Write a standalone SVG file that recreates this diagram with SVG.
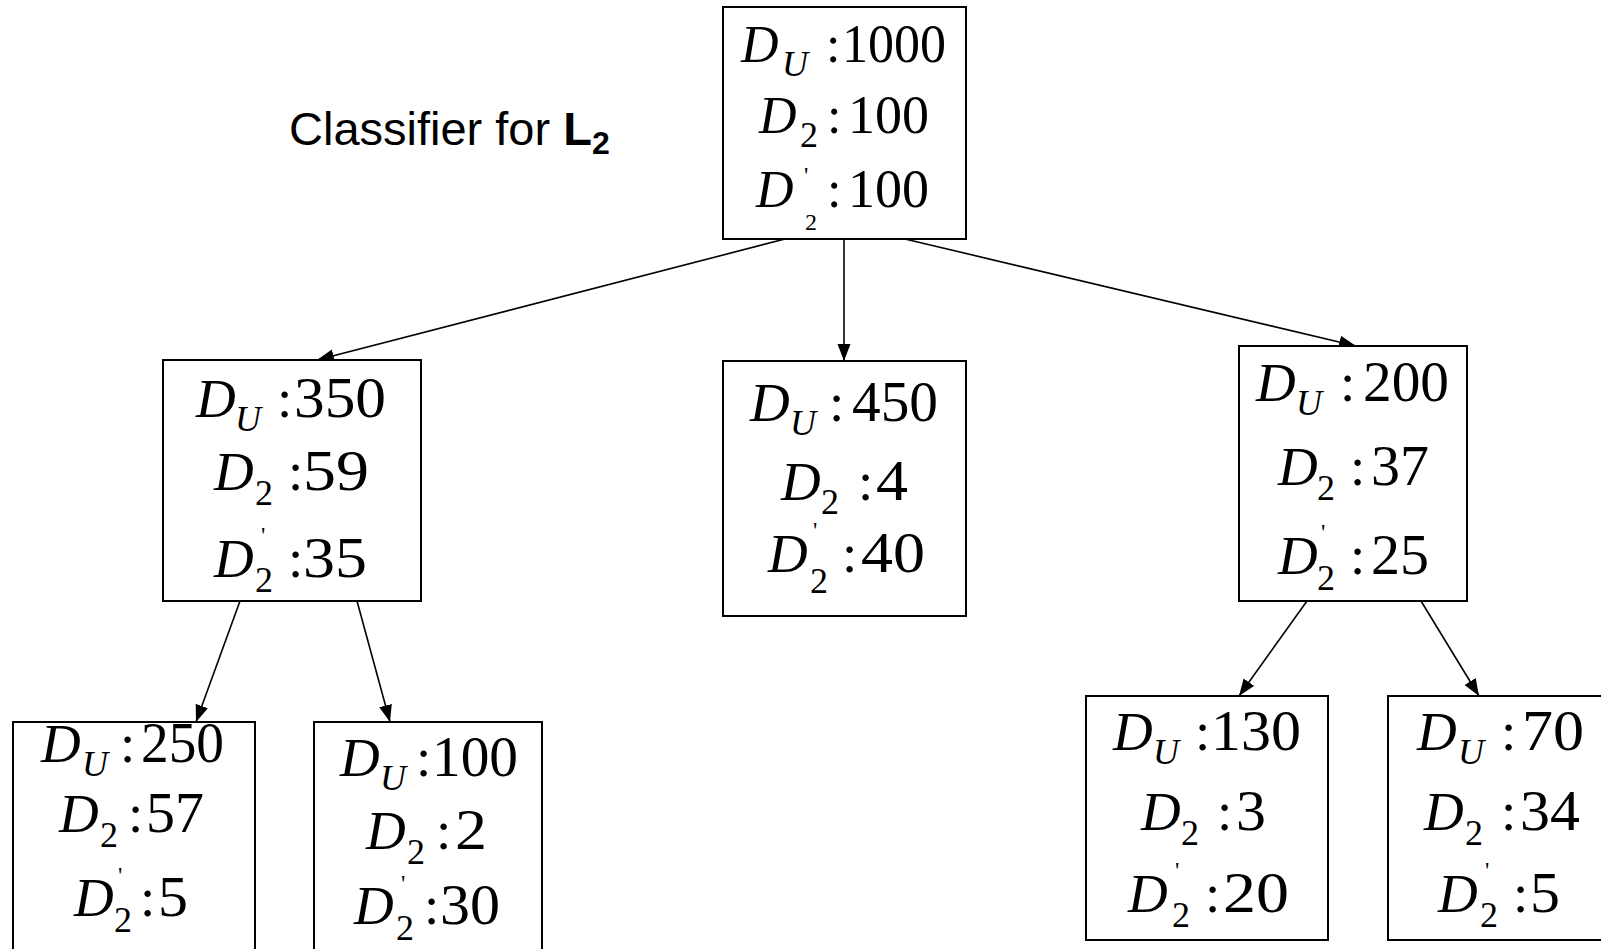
<svg xmlns="http://www.w3.org/2000/svg" width="1601" height="949" viewBox="0 0 1601 949">
<defs>
<style>
.box{fill:#fff;stroke:#000;stroke-width:2}
.t{font-family:"Liberation Serif","Times New Roman",serif;font-size:55px;fill:#000}
.tt{font-size:52px}
.n{font-size:58px}
.tt .n{font-size:54px}
.i{font-style:italic}
.s{font-size:36px}
.p{font-size:24px}
.ss{font-size:24px}
.lbl{font-family:"Liberation Sans",Arial,sans-serif;font-size:47px;fill:#000}
.edge{stroke:#000;stroke-width:1.6;fill:none;marker-end:url(#ah)}
</style>
<marker id="ah" markerUnits="userSpaceOnUse" markerWidth="18" markerHeight="14" refX="17" refY="6.5" orient="auto">
<path d="M0,0 L17,6.5 L0,13 z" fill="#000"/>
</marker>
</defs>
<rect width="1601" height="949" fill="#fff"/>

<g id="label">
<text class="lbl" x="289" y="145">Classifier for <tspan font-weight="bold">L</tspan><tspan font-weight="bold" font-size="32px" dy="9">2</tspan></text>
</g>

<g id="connectors">
<line class="edge" x1="785" y1="239" x2="317" y2="360"/>
<line class="edge" x1="844" y1="239" x2="844" y2="361"/>
<line class="edge" x1="905" y1="239" x2="1356" y2="346"/>
<line class="edge" x1="240" y1="601" x2="196" y2="722"/>
<line class="edge" x1="357" y1="601" x2="390" y2="722"/>
<line class="edge" x1="1307" y1="601" x2="1239" y2="696"/>
<line class="edge" x1="1421" y1="601" x2="1479" y2="696"/>
</g>

<g id="n-root">
<rect class="box" x="723" y="7" width="243" height="232"/>
<text class="t tt"><tspan class="i" x="741" y="62">D</tspan><tspan class="i s" x="782" y="76">U</tspan><tspan x="826" y="62">:</tspan><tspan class="n" x="842" y="62" textLength="104" lengthAdjust="spacingAndGlyphs">1000</tspan></text>
<text class="t tt"><tspan class="i" x="759" y="133">D</tspan><tspan class="s" x="800" y="147">2</tspan><tspan x="827" y="133">:</tspan><tspan class="n" x="848" y="133" textLength="81" lengthAdjust="spacingAndGlyphs">100</tspan></text>
<text class="t tt"><tspan class="i" x="756" y="207">D</tspan><tspan class="p" x="804" y="183">'</tspan><tspan class="ss" x="805" y="230">2</tspan><tspan x="827" y="207">:</tspan><tspan class="n" x="848" y="207" textLength="81" lengthAdjust="spacingAndGlyphs">100</tspan></text>
</g>

<g id="n-left">
<rect class="box" x="163" y="360" width="258" height="241"/>
<text class="t"><tspan class="i" x="196" y="417">D</tspan><tspan class="i s" x="235" y="431">U</tspan><tspan x="277" y="417">:</tspan><tspan class="n" x="294" y="417" textLength="92" lengthAdjust="spacingAndGlyphs">350</tspan></text>
<text class="t"><tspan class="i" x="214" y="490">D</tspan><tspan class="s" x="255" y="505">2</tspan><tspan x="288" y="490">:</tspan><tspan class="n" x="303" y="490" textLength="66" lengthAdjust="spacingAndGlyphs">59</tspan></text>
<text class="t"><tspan class="i" x="214" y="577">D</tspan><tspan class="p" x="261" y="543">'</tspan><tspan class="s" x="255" y="592">2</tspan><tspan x="288" y="577">:</tspan><tspan class="n" x="303" y="577" textLength="64" lengthAdjust="spacingAndGlyphs">35</tspan></text>
</g>

<g id="n-center">
<rect class="box" x="723" y="361" width="243" height="255"/>
<text class="t"><tspan class="i" x="750" y="421">D</tspan><tspan class="i s" x="790" y="435">U</tspan><tspan x="829" y="421">:</tspan><tspan class="n" x="852" y="421" textLength="86" lengthAdjust="spacingAndGlyphs">450</tspan></text>
<text class="t"><tspan class="i" x="781" y="500">D</tspan><tspan class="s" x="821" y="514">2</tspan><tspan x="858" y="500">:</tspan><tspan class="n" x="876" y="500" textLength="32" lengthAdjust="spacingAndGlyphs">4</tspan></text>
<text class="t"><tspan class="i" x="768" y="572">D</tspan><tspan class="p" x="813" y="538">'</tspan><tspan class="s" x="810" y="593">2</tspan><tspan x="842" y="572">:</tspan><tspan class="n" x="861" y="572" textLength="64" lengthAdjust="spacingAndGlyphs">40</tspan></text>
</g>

<g id="n-right">
<rect class="box" x="1239" y="346" width="228" height="255"/>
<text class="t"><tspan class="i" x="1256" y="401">D</tspan><tspan class="i s" x="1296" y="415">U</tspan><tspan x="1340" y="401">:</tspan><tspan class="n" x="1363" y="401" textLength="86" lengthAdjust="spacingAndGlyphs">200</tspan></text>
<text class="t"><tspan class="i" x="1278" y="485">D</tspan><tspan class="s" x="1317" y="500">2</tspan><tspan x="1350" y="485">:</tspan><tspan class="n" x="1371" y="485" textLength="58" lengthAdjust="spacingAndGlyphs">37</tspan></text>
<text class="t"><tspan class="i" x="1278" y="574">D</tspan><tspan class="p" x="1321" y="540">'</tspan><tspan class="s" x="1317" y="590">2</tspan><tspan x="1350" y="574">:</tspan><tspan class="n" x="1371" y="574" textLength="58" lengthAdjust="spacingAndGlyphs">25</tspan></text>
</g>

<g id="n-ll">
<rect class="box" x="13" y="722" width="242" height="240"/>
<text class="t"><tspan class="i" x="41" y="762">D</tspan><tspan class="i s" x="82" y="776">U</tspan><tspan x="120" y="762">:</tspan><tspan class="n" x="141" y="762" textLength="83" lengthAdjust="spacingAndGlyphs">250</tspan></text>
<text class="t"><tspan class="i" x="59" y="832">D</tspan><tspan class="s" x="100" y="847">2</tspan><tspan x="128" y="832">:</tspan><tspan class="n" x="146" y="832" textLength="58" lengthAdjust="spacingAndGlyphs">57</tspan></text>
<text class="t"><tspan class="i" x="74" y="916">D</tspan><tspan class="p" x="118" y="883">'</tspan><tspan class="s" x="114" y="932">2</tspan><tspan x="140" y="916">:</tspan><tspan class="n" x="158" y="916" textLength="30" lengthAdjust="spacingAndGlyphs">5</tspan></text>
</g>

<g id="n-lr">
<rect class="box" x="314" y="722" width="228" height="240"/>
<text class="t"><tspan class="i" x="340" y="776">D</tspan><tspan class="i s" x="380" y="790">U</tspan><tspan x="416" y="776">:</tspan><tspan class="n" x="432" y="776" textLength="86" lengthAdjust="spacingAndGlyphs">100</tspan></text>
<text class="t"><tspan class="i" x="366" y="849">D</tspan><tspan class="s" x="407" y="864">2</tspan><tspan x="436" y="849">:</tspan><tspan class="n" x="455" y="849" textLength="32" lengthAdjust="spacingAndGlyphs">2</tspan></text>
<text class="t"><tspan class="i" x="354" y="924">D</tspan><tspan class="p" x="401" y="891">'</tspan><tspan class="s" x="396" y="940">2</tspan><tspan x="424" y="924">:</tspan><tspan class="n" x="440" y="924" textLength="60" lengthAdjust="spacingAndGlyphs">30</tspan></text>
</g>

<g id="n-rl">
<rect class="box" x="1086" y="696" width="242" height="244"/>
<text class="t"><tspan class="i" x="1113" y="750">D</tspan><tspan class="i s" x="1153" y="764">U</tspan><tspan x="1195" y="750">:</tspan><tspan class="n" x="1211" y="750" textLength="90" lengthAdjust="spacingAndGlyphs">130</tspan></text>
<text class="t"><tspan class="i" x="1141" y="830">D</tspan><tspan class="s" x="1181" y="845">2</tspan><tspan x="1217" y="830">:</tspan><tspan class="n" x="1236" y="830" textLength="30" lengthAdjust="spacingAndGlyphs">3</tspan></text>
<text class="t"><tspan class="i" x="1128" y="912">D</tspan><tspan class="p" x="1175" y="878">'</tspan><tspan class="s" x="1172" y="927">2</tspan><tspan x="1205" y="912">:</tspan><tspan class="n" x="1223" y="912" textLength="66" lengthAdjust="spacingAndGlyphs">20</tspan></text>
</g>

<g id="n-rr">
<rect class="box" x="1388" y="696" width="230" height="244"/>
<text class="t"><tspan class="i" x="1417" y="750">D</tspan><tspan class="i s" x="1458" y="764">U</tspan><tspan x="1501" y="750">:</tspan><tspan class="n" x="1522" y="750" textLength="62" lengthAdjust="spacingAndGlyphs">70</tspan></text>
<text class="t"><tspan class="i" x="1424" y="830">D</tspan><tspan class="s" x="1465" y="845">2</tspan><tspan x="1501" y="830">:</tspan><tspan class="n" x="1520" y="830" textLength="60" lengthAdjust="spacingAndGlyphs">34</tspan></text>
<text class="t"><tspan class="i" x="1438" y="912">D</tspan><tspan class="p" x="1485" y="878">'</tspan><tspan class="s" x="1480" y="927">2</tspan><tspan x="1513" y="912">:</tspan><tspan class="n" x="1530" y="912" textLength="30" lengthAdjust="spacingAndGlyphs">5</tspan></text>
</g>
</svg>
